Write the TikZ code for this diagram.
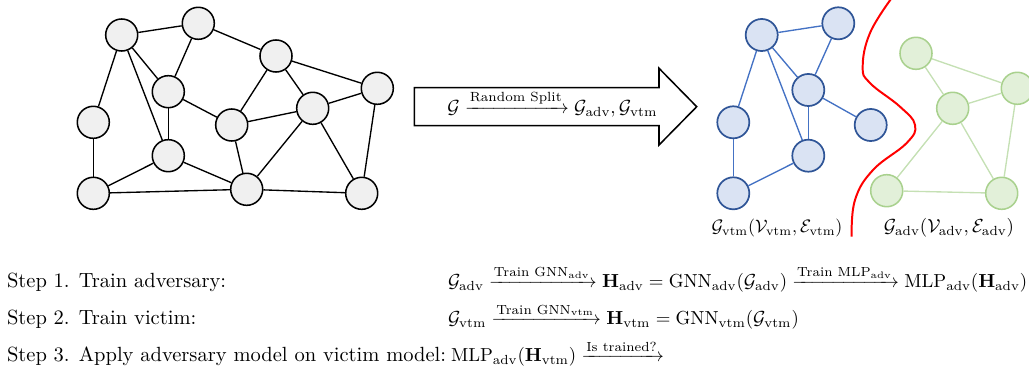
\documentclass[tikz,border=0pt]{standalone}
\usepackage{amsmath}
\usepackage{graphicx}
\begin{document}
\begin{tikzpicture}[x=0.5556pt,y=-0.5556pt,
  gnode/.style={circle,draw=black,fill=black!6,line width=0.85pt,minimum size=17.8pt,inner sep=0pt},
  bnode/.style={circle,draw=blue2,fill=blue1,line width=0.95pt,minimum size=17.8pt,inner sep=0pt},
  vnode/.style={circle,draw=green2,fill=green1,line width=0.85pt,minimum size=17.8pt,inner sep=0pt},
  gedge/.style={line width=0.75pt,black},
  bedge/.style={line width=0.75pt,blue3},
  vedge/.style={line width=0.75pt,green3},
  txt/.style={anchor=base west,inner sep=0pt,outer sep=0pt}]
\definecolor{blue1}{HTML}{DAE3F3}
\definecolor{blue2}{HTML}{2F5597}
\definecolor{blue3}{HTML}{4472C4}
\definecolor{green1}{HTML}{E2F0D9}
\definecolor{green2}{HTML}{A9D18E}
\definecolor{green3}{HTML}{C5E0B4}
\useasboundingbox (0,0) rectangle (1029,375);
% original graph
\node[gnode] (A) at (121.7,35) {};
\node[gnode] (B) at (198.3,23.3) {};
\node[gnode] (C) at (276,56) {};
\node[gnode] (D) at (168.3,91.7) {};
\node[gnode] (E) at (93.3,122.3) {};
\node[gnode] (F) at (231.7,125) {};
\node[gnode] (G) at (312.7,108.3) {};
\node[gnode] (H) at (377.3,88.3) {};
\node[gnode] (I) at (168.3,155.7) {};
\node[gnode] (J) at (93.3,193.3) {};
\node[gnode] (K) at (246.7,189.3) {};
\node[gnode] (L) at (361.7,193.3) {};
\foreach \u/\v in {A/B,A/E,A/D,A/I,B/D,B/C,C/F,C/G,C/H,D/F,D/I,E/J,I/J,I/K,J/K,F/K,F/G,G/H,G/K,G/L,H/L,K/L}
  \draw[gedge] (\u) -- (\v);
% big arrow
\draw[line width=0.85pt,line join=miter] (414.3,87.7) -- (659,87.7) -- (659,68.3) -- (696.7,106.7) -- (659,145) -- (659,125.7) -- (414.3,125.7) -- cycle;
\node (split) at (552.5,104) {\scalebox{1.055}{$\mathcal{G} \xrightarrow{\text{Random Split}} \mathcal{G}_{\text{adv}}, \mathcal{G}_{\text{vtm}}$}};
% victim graph
\node[bnode] (va) at (761.7,35) {};
\node[bnode] (vb) at (838.3,23.3) {};
\node[bnode] (vd) at (808.3,90) {};
\node[bnode] (ve) at (733.3,122.3) {};
\node[bnode] (vx) at (870.7,125) {};
\node[bnode] (vi) at (808.3,155.7) {};
\node[bnode] (vj) at (733.3,193.3) {};
\foreach \u/\v in {va/vb,va/ve,va/vd,va/vi,vb/vd,vd/vx,vd/vi,ve/vj,vi/vj}
  \draw[bedge] (\u) -- (\v);
% adversary graph
\node[vnode] (ac) at (916,53.3) {};
\node[vnode] (ag) at (952.7,108.3) {};
\node[vnode] (ah) at (1017.3,88.3) {};
\node[vnode] (al) at (1001.7,193.3) {};
\node[vnode] (ak) at (886.7,190.7) {};
\foreach \u/\v in {ac/ag,ac/ah,ag/ah,ag/ak,ag/al,ah/al,ak/al}
  \draw[vedge] (\u) -- (\v);
% red split curve
\draw[red,line width=1.1pt] plot[smooth,tension=0.7] coordinates {(891.7,-2) (870,33) (862.7,66.7) (870,83) (900,106.7) (915,125) (906.7,143) (873,170) (855,200) (851.7,236.7)};
% labels
\node[anchor=base] (lv) at (777,233) {$\mathcal{G}_{\text{vtm}}(\mathcal{V}_{\text{vtm}},\mathcal{E}_{\text{vtm}})$};
\node[anchor=base] (la) at (949,233) {\scalebox{1.05}{$\mathcal{G}_{\text{adv}}(\mathcal{V}_{\text{adv}},\mathcal{E}_{\text{adv}})$}};
% steps
\node[txt] (s1) at (7,287.5) {\scalebox{1.14}{Step 1. Train adversary:}};
\node[txt] (s2) at (7,325) {\scalebox{1.14}{Step 2. Train victim:}};
\node[txt] (s3) at (7,362) {\scalebox{1.14}{Step 3. Apply adversary model on victim model:}};
\node[txt] (m1) at (448,287.5) {\scalebox{1.047}{$\mathcal{G}_{\text{adv}} \xrightarrow{\text{Train GNN}_{\text{adv}}} \mathbf{H}_{\text{adv}} = \text{GNN}_{\text{adv}}(\mathcal{G}_{\text{adv}}) \xrightarrow{\text{Train MLP}_{\text{adv}}} \text{MLP}_{\text{adv}}(\mathbf{H}_{\text{adv}})$}};
\node[txt] (m2) at (448,325) {\scalebox{1.047}{$\mathcal{G}_{\text{vtm}} \xrightarrow{\text{Train GNN}_{\text{vtm}}} \mathbf{H}_{\text{vtm}} = \text{GNN}_{\text{vtm}}(\mathcal{G}_{\text{vtm}})$}};
\node[txt] (m3) at (451,362) {\scalebox{1.047}{$\text{MLP}_{\text{adv}}(\mathbf{H}_{\text{vtm}}) \xrightarrow{\text{Is trained?}}$}};
\end{tikzpicture}
\end{document}
